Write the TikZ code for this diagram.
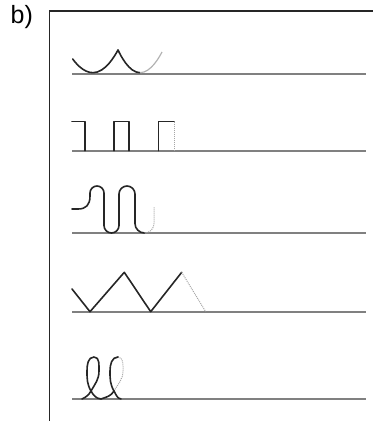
\documentclass[tikz,border=0pt]{standalone}
\usepackage{fontspec}
\setmainfont{Liberation Sans}
\begin{document}
\begin{tikzpicture}[x=1pt,y=1pt,
  frame/.style={draw=black!85,line width=1.5pt},
  baseline/.style={draw=black!50,line width=1.9pt},
  stroke/.style={draw=black!85,line width=1.6pt,line join=round,line cap=round},
  faint/.style={draw=black!35,line width=1pt,densely dotted},
  faintsolid/.style={draw=black!30,line width=1.2pt}]
\useasboundingbox (0,0) rectangle (373,421);
% label
\node[anchor=base west,inner sep=0pt,font=\fontsize{25}{30}\selectfont] (lbl) at (10.5,397) {b)};
% frame
\coordinate (fb) at (49.3,0);
\coordinate (ft) at (49.3,410);
\coordinate (fr) at (373,410);
\draw[frame] (fb) -- (ft) -- (fr);
% baselines
\foreach \y/\n in {347/a,270.3/b,188/c,109.3/d,22/e}{
  \coordinate (bl\n) at (72,\y);
  \coordinate (br\n) at (365.7,\y);
  \draw[baseline] (bl\n) -- (br\n);
}
% pattern 1: arcs
\draw[stroke] (72.7,362) parabola bend (93,348.3) (118,371);
\draw[stroke] (118,371) parabola[bend at end] (140,348.3);
\draw[faintsolid] (140,348.3) parabola (162,369);
% pattern 2: square wave
\draw[stroke] (72,299.3) -- (85,299.3) -- (85,270.3);
\draw[stroke] (114,270.3) -- (114,299.3) -- (128.7,299.3) -- (128.7,270.3);
\draw[stroke] (158.3,270.3) -- (158.3,299.3) -- (174,299.3);
\draw[faint] (174,299.3) -- (174,270.3);
% pattern 3: wave
\draw[stroke] (72,212) -- (78,212) .. controls (86,212) and (90,216) .. (90,225)
  -- (90,228) arc[start angle=180,end angle=0,radius=7]
  -- (104,195.5) arc[start angle=180,end angle=360,radius=7.5]
  -- (119,227) arc[start angle=180,end angle=0,radius=8]
  -- (135,197.5) arc[start angle=180,end angle=270,radius=9.5];
\draw[faint] (144.5,188) arc[start angle=270,end angle=360,radius=9.5] -- (154,214);
% pattern 4: zigzag
\draw[stroke] (72,132) -- (90,109.3) -- (124.3,148.7) -- (150.7,109.3) -- (181.7,148.7);
\draw[faint] (181.7,148.7) -- (205.7,109.3);
% pattern 5: loops
\draw[stroke] (82,22) to[out=25,in=-120] (91,30) to[out=60,in=-90] (99,50)
  to[out=90,in=0] (94,64) to[out=180,in=90] (87,50) to[out=-90,in=120] (91,30)
  to[out=-60,in=175] (101,22) to[out=20,in=-120] (114,30);
\draw[faint] (114,30) to[out=60,in=-90] (123,50) to[out=90,in=0] (118,64);
\draw[stroke] (118,64) to[out=180,in=90] (110,50) to[out=-90,in=120] (114,30)
  to[out=-60,in=170] (121,22);
\end{tikzpicture}
\end{document}
